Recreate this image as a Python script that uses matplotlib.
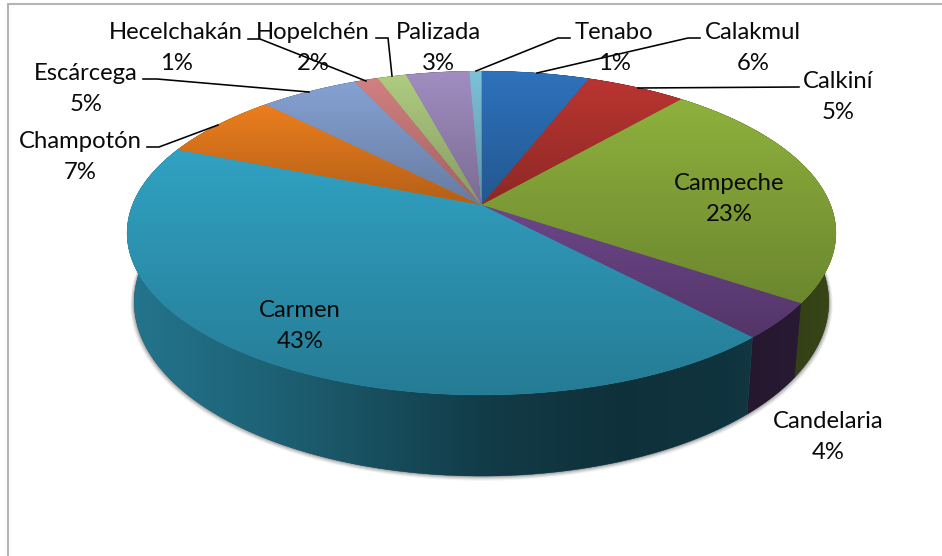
import numpy as np
import matplotlib
matplotlib.use("Agg")
import matplotlib.pyplot as plt
from matplotlib.patches import Polygon

# ---- data (clockwise from 12 o'clock) ----
categories = ["Calakmul", "Calkiní", "Campeche", "Candelaria", "Carmen", "Champotón",
              "Escárcega", "Hecelchakán", "Hopelchén", "Palizada", "Tenabo"]
values = [5.8, 5.4, 23.3, 3.6, 42.9, 6.65, 5.3, 1.3, 1.55, 3.4, 0.65]

# ---- styling ----
colors = ["#2e72bc", "#ba3531", "#8eb13d", "#6d4689", "#31a2c3", "#ec7e1e",
          "#86a2d3", "#d28080", "#afcc81", "#a18dc1", "#7dc1d9"]
label_pos = {"Calakmul": (753, 48), "Calkiní": (838, 97), "Campeche": (729, 199),
             "Candelaria": (828, 437), "Carmen": (300, 326), "Champotón": (80, 157),
             "Escárcega": (86, 89), "Hecelchakán": (176, 48), "Hopelchén": (313, 48),
             "Palizada": (438, 48), "Tenabo": (614, 48)}
leaders = [[(248, 39), (260, 39), (366, 81)],
           [(376, 38), (388, 38), (392, 76)],
           [(143, 79), (157, 79), (309, 92)],
           [(147, 147), (159, 147), (218, 125)],
           [(570, 38), (558, 38), (476, 71)],
           [(700, 38), (688, 38), (537, 73)],
           [(799, 87), (638, 88)]]

CX, CY = 481.5, 205.0
P, RX, RY = 0.173, 349.0, 157.0
BOT_KX, BOT_KY, BOT_CY = 0.98, 1.075, 272.0


def project(theta, bottom=False):
    """theta: clockwise angle from 12 o'clock in radians -> pixel coordinates."""
    X, Y = np.sin(theta), np.cos(theta)
    den = 1 + P * Y
    x, y = RX * X / den, RY * Y / den
    if bottom:
        return np.column_stack([CX + BOT_KX * x, BOT_CY - BOT_KY * y])
    return np.column_stack([CX + x, CY - y])


def shade(u):
    return np.interp(u, [-1, -0.6, 0, 0.4, 0.7, 1],
                     [0.72, 0.60, 0.37, 0.30, 0.32, 0.39])


fig = plt.figure(figsize=(9.42, 5.56), dpi=100, facecolor="white")
ax = fig.add_axes([0, 0, 1, 1])
ax.set_axis_off()

# frame
ax.plot([7.5, 7.5, 942], [556, 3.5, 3.5], color="#b4b4b4", lw=1.5, zorder=1,
        solid_joinstyle="miter")

frac = np.array(values) / np.sum(values)
edges = np.concatenate([[0], np.cumsum(frac)]) * 2 * np.pi

# drop shadow
full = np.linspace(0, 2 * np.pi, 361)
rim = project(full, bottom=True)
mid_rim = rim.mean(axis=0)
for grow, a in [(4.0, 0.06), (3.0, 0.10), (2.0, 0.14), (1.0, 0.18)]:
    s = mid_rim + (rim - mid_rim) * (1 + grow / 350.0) + [0, grow * 0.6]
    ax.add_patch(Polygon(s, closed=True, fc="#303030", ec="none", alpha=a, zorder=2))

# side wall: back to front, each slice with a horizontal gradient
px = np.linspace(120, 845, 726)
shades = shade(np.clip((px - CX) / RX, -1, 1))
side_order = sorted(range(len(colors)), key=lambda k: -np.cos(0.5 * (edges[k] + edges[k + 1])))
for n, i in enumerate(side_order):
    base = np.array(matplotlib.colors.to_rgb(colors[i]))
    t = np.linspace(edges[i], edges[i + 1], max(3, int(np.degrees(edges[i + 1] - edges[i]))))
    pts = np.vstack([project(t), project(t, bottom=True)[::-1]])
    um = shade(np.clip((pts[:, 0].mean() - CX) / RX, -1, 1))
    ax.add_patch(Polygon(pts, closed=True, fc=base * um, ec=base * um, lw=0.3, zorder=3 + n * 0.01))
    grad = np.clip(base[None, None, :] * shades[None, :, None], 0, 1)
    im = ax.imshow(grad, extent=(120, 845, 500, 60), aspect="auto",
                   interpolation="bilinear", zorder=3 + n * 0.01 + 0.005)
    im.set_clip_path(Polygon(pts, closed=True, transform=ax.transData))

# top face: each slice has a vertical gradient over its own height
for i, c in enumerate(colors):
    base = np.array(matplotlib.colors.to_rgb(c))
    t = np.linspace(edges[i], edges[i + 1], max(3, int(np.degrees(edges[i + 1] - edges[i]))))
    pts = np.vstack([[CX, CY], project(t)])
    y0, y1 = pts[:, 1].min(), pts[:, 1].max()
    under = base * 0.88
    ax.add_patch(Polygon(pts, closed=True, fc=under, ec=under, lw=0.4, zorder=4))
    fac = np.linspace(1.0, 0.76, 200)
    grad = np.clip(base[None, None, :] * fac[:, None, None], 0, 1)
    im = ax.imshow(grad, extent=(100, 860, y1, y0), aspect="auto",
                   interpolation="bilinear", zorder=5)
    im.set_clip_path(Polygon(pts, closed=True, transform=ax.transData))

# leader lines
for pts in leaders:
    xs, yy = zip(*pts)
    ax.plot(xs, yy, color="black", lw=1.15, zorder=6, solid_joinstyle="miter")

# labels
for name, v in zip(categories, values):
    x, y = label_pos[name]
    ax.text(x, y, f"{name}\n{round(v)}%", ha="center", va="center", multialignment="center",
            family="Lato", fontsize=17.2, linespacing=1.55, color="#0a0a0a", zorder=7)

ax.set_xlim(0, 942)
ax.set_ylim(556, 0)
fig.savefig("out.png", dpi=100, facecolor="white")
